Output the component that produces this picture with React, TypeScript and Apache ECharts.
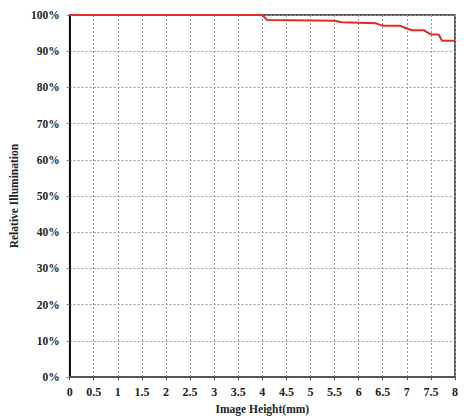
import React, { useEffect, useRef } from "react";
import * as echarts from "echarts";

const imageHeight = [0, 4.0, 4.1, 5.5, 5.65, 6.36, 6.5, 6.87, 6.97, 7.11, 7.35, 7.45, 7.52, 7.66, 7.73, 8.0];
const relIllum = [100, 100, 98.6, 98.4, 98.0, 97.7, 97.0, 97.0, 96.4, 95.8, 95.8, 95.0, 94.6, 94.6, 92.9, 92.9];
const xTicks = [0, 0.5, 1, 1.5, 2, 2.5, 3, 3.5, 4, 4.5, 5, 5.5, 6, 6.5, 7, 7.5, 8];
const yTicks = [0, 10, 20, 30, 40, 50, 60, 70, 80, 90, 100];

const FONT = "'Liberation Serif', 'DejaVu Serif', serif";

export default function App() {
  const ref = useRef<HTMLDivElement>(null);
  useEffect(() => {
    const chart = echarts.init(ref.current!, null, { renderer: "svg" });
    chart.setOption({
      animation: false,
      backgroundColor: "#fff",
      grid: {
        left: 65, top: 15, right: 9, bottom: 35,
        show: true, borderColor: "#222", borderWidth: 1.5, backgroundColor: "#fff",
      },
      xAxis: {
        type: "value",
        min: xTicks[0], max: xTicks[xTicks.length - 1], interval: 0.5,
        name: "Image Height(mm)", nameLocation: "middle", nameGap: 22,
        nameTextStyle: { fontFamily: FONT, fontWeight: "bold", fontSize: 11.5, color: "#222" },
        axisLine: { show: true, lineStyle: { color: "#555", width: 2 } },
        axisTick: { show: true, length: 3, lineStyle: { color: "#555" } },
        axisLabel: { fontFamily: FONT, fontWeight: "bold", fontSize: 12, color: "#222", margin: 9,
          formatter: (v: number) => String(v) },
        splitLine: { show: true, lineStyle: { color: "#999", type: [2, 2], width: 1 } },
      },
      yAxis: {
        type: "value",
        min: yTicks[0], max: yTicks[yTicks.length - 1], interval: 10,
        name: "Relative Illumination", nameLocation: "middle", nameGap: 34,
        nameTextStyle: { fontFamily: FONT, fontWeight: "bold", fontSize: 11.5, color: "#222" },
        axisLine: { show: true, lineStyle: { color: "#111", width: 2 } },
        axisTick: { show: true, length: 3, lineStyle: { color: "#888" } },
        axisLabel: { fontFamily: FONT, fontWeight: "bold", fontSize: 11.5, color: "#222", margin: 10,
          formatter: (v: number) => v + "%" },
        splitLine: { show: true, lineStyle: { color: "#999", type: [2, 2], width: 1 } },
      },
      series: [{
        type: "line",
        data: imageHeight.map((x, i) => [x, relIllum[i]]),
        showSymbol: false,
        lineStyle: { color: "#e02a2a", width: 2 },
        z: 5,
      }],
    });
    return () => chart.dispose();
  }, []);
  return <div ref={ref} style={{ width: 464, height: 420, position: "absolute", left: 0, top: 0 }} />;
}
